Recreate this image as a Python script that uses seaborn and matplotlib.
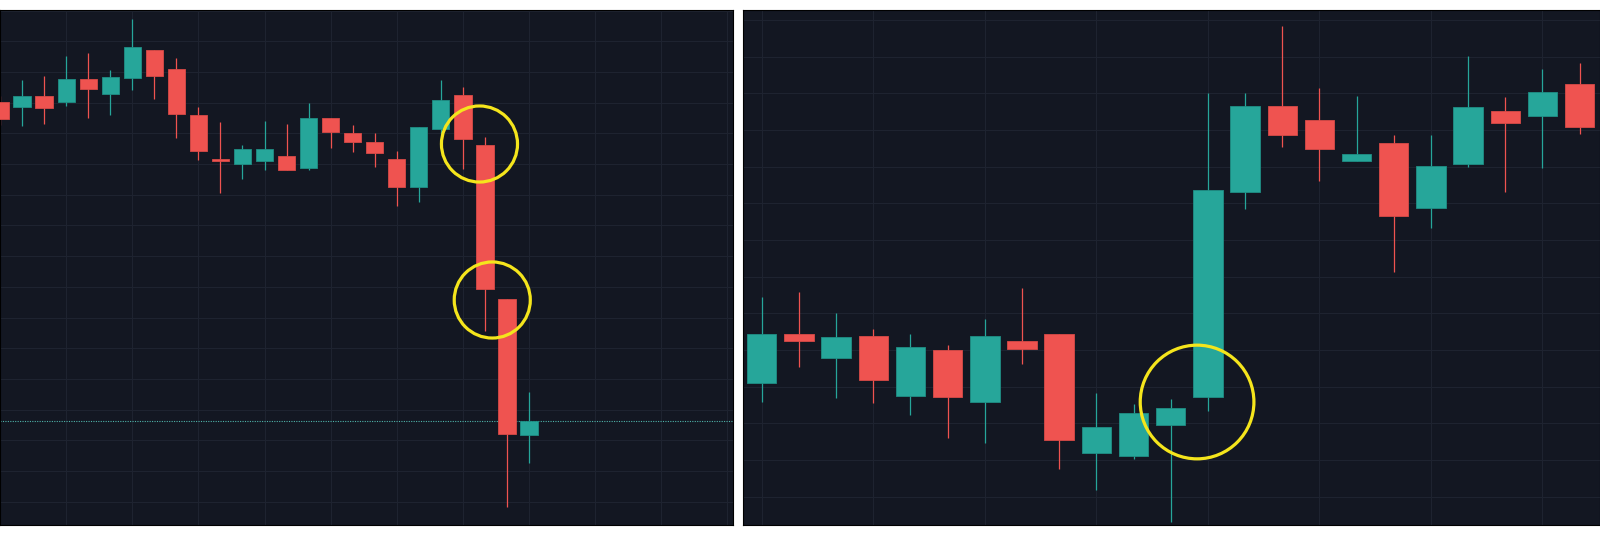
import numpy as np
import pandas as pd
import matplotlib
matplotlib.use("Agg")
import matplotlib.pyplot as plt
import seaborn as sns

# ---------------- data (price units) ----------------
left_open  = [427.7, 423.3, 434.3, 428.3, 451.0, 436.3, 452.3, 480.3, 461.0, 415.0,
              370.3, 366.3, 369.3, 374.0, 362.0, 412.0, 396.7, 388.3, 371.3, 343.3,
              400.7, 435.3, 384.7, 230.7, 95.3]
left_close = [411.0, 434.3, 422.0, 451.0, 440.7, 453.0, 482.7, 453.7, 416.3, 379.3,
              369.3, 381.0, 381.0, 360.0, 412.0, 398.3, 388.3, 377.3, 343.3, 402.7,
              430.0, 391.0, 240.7, 96.3, 108.7]
left_high  = [434.0, 450.0, 454.0, 474.0, 477.0, 460.3, 511.0, 480.3, 471.7, 422.7,
              408.3, 385.0, 409.0, 406.0, 427.3, 412.0, 405.0, 396.7, 379.0, 403.3,
              450.0, 443.3, 392.7, 230.7, 138.0]
left_low   = [405.0, 404.3, 406.3, 423.7, 412.3, 415.3, 440.0, 431.3, 392.0, 370.3,
              336.7, 351.0, 360.0, 360.0, 360.0, 382.3, 378.3, 363.3, 324.3, 328.3,
              386.7, 361.0, 199.0, 22.7, 67.3]

right_open  = [147.3, 196.0, 172.3, 194.3, 134.0, 180.0, 128.0, 189.5, 195.6, 77.3,
               73.8, 105.2, 133.2, 338.3, 423.9, 410.0, 369.3, 386.7, 322.3, 365.7,
               419.0, 414.0, 446.0]
right_close = [196.0, 189.0, 193.0, 150.3, 182.7, 133.3, 194.3, 181.3, 89.9, 103.5,
               117.2, 121.6, 340.0, 423.9, 394.6, 381.3, 376.0, 313.7, 364.0, 423.0,
               407.3, 438.3, 403.3]
right_high  = [233.3, 237.7, 217.0, 201.0, 196.0, 185.0, 210.7, 242.4, 195.6, 137.0,
               125.7, 131.5, 437.2, 437.2, 504.4, 442.0, 434.0, 395.0, 395.0, 474.0,
               433.0, 461.0, 467.0]
right_low   = [128.0, 163.3, 131.7, 127.0, 115.0, 91.7, 87.0, 165.6, 60.9, 40.4,
               71.1, 8.0, 118.9, 321.2, 383.3, 348.7, 369.3, 258.0, 302.3, 363.3,
               338.3, 362.3, 395.7]

# highlighted spots (candle index, price)
left_marks_x = [21.75, 22.33]
left_marks_y = [386.0, 230.0]
right_marks_x = [11.71]
right_marks_y = [128.0]

# ---------------- style ----------------
BG = "#131722"
GRID = "#1e2330"
TEAL = "#26a69a"
RED = "#ef5350"
TEAL_EDGE = "#1f8f85"
RED_EDGE = "#d84a47"
YELLOW = "#f5e51c"

sns.set_theme(style="darkgrid", rc={
    "axes.facecolor": BG,
    "figure.facecolor": "white",
    "grid.color": GRID,
    "grid.linewidth": 0.8,
    "axes.edgecolor": "black",
})
plt.rcParams["font.family"] = ["DejaVu Sans"]

fig = plt.figure(figsize=(16, 5.35), dpi=100)
axL = fig.add_axes([0.0, 10 / 535, 733 / 1600, 515.5 / 535])
axR = fig.add_axes([743 / 1600, 10 / 535, 857 / 1600, 515.5 / 535])


def draw_candles(ax, o, h, l, c, width):
    o, h, l, c = map(np.asarray, (o, h, l, c))
    x = np.arange(len(o))
    up = c >= o
    col = np.where(up, TEAL, RED)
    edge = np.where(up, TEAL_EDGE, RED_EDGE)
    ax.vlines(x, l, h, colors=col, linewidth=0.9, zorder=2)
    bottom = np.minimum(o, c)
    height = np.maximum(np.abs(c - o), 1.3)
    ax.bar(x, height, width, bottom, color=col, edgecolor=edge,
           linewidth=0.6, zorder=3)


draw_candles(axL, left_open, left_high, left_low, left_close, 0.78)
draw_candles(axR, right_open, right_high, right_low, right_close, 0.79)

# last price line on the left panel
axL.axhline(left_close[-1], color="#4fb3aa", linestyle=(0, (1, 1.2)),
            linewidth=0.8, zorder=1)

# yellow highlight circles
mk = pd.DataFrame({"x": left_marks_x, "y": left_marks_y})
sns.scatterplot(data=mk, x="x", y="y", ax=axL, s=3000, marker="o",
                facecolor="none", edgecolor=YELLOW, linewidth=2.3,
                zorder=5, legend=False)
mk2 = pd.DataFrame({"x": right_marks_x, "y": right_marks_y})
sns.scatterplot(data=mk2, x="x", y="y", ax=axR, s=6700, marker="o",
                facecolor="none", edgecolor=YELLOW, linewidth=2.3,
                zorder=5, legend=False)

# axes limits, grid positions
axL.set_xlim(0.188, 33.25)
axL.set_ylim(5, 520.5)
axL.set_xticks(np.arange(0, 34, 3))
axL.set_yticks(28.3 + 30.7 * np.arange(17))

axR.set_xlim(-0.506, 22.55)
axR.set_ylim(5, 520.5)
axR.set_xticks(np.arange(0, 22, 3))
axR.set_yticks(510 - 36.67 * np.arange(14))

for ax in (axL, axR):
    ax.set_xlabel("")
    ax.set_ylabel("")
    ax.tick_params(length=0, labelbottom=False, labelleft=False)
    ax.grid(True, color=GRID, linewidth=0.8)
    ax.set_axisbelow(True)
    for s in ax.spines.values():
        s.set_visible(True)
        s.set_color("black")
        s.set_linewidth(0.8)

fig.savefig("out.png", dpi=100, facecolor="white")
